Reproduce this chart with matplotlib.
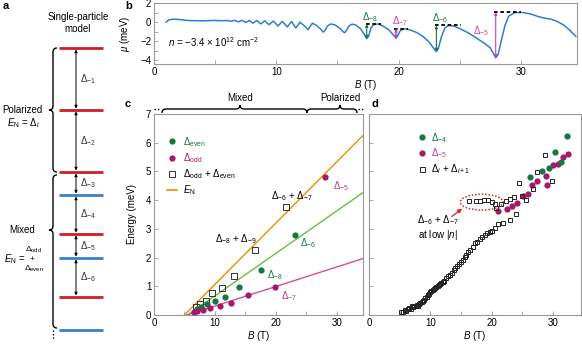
import numpy as np
import matplotlib
matplotlib.use('Agg')
import matplotlib.pyplot as plt
from matplotlib.path import Path
from matplotlib.patches import PathPatch, Ellipse
from matplotlib.ticker import MultipleLocator
from matplotlib.lines import Line2D

plt.rcParams['font.family'] = ['Liberation Sans', 'DejaVu Sans']
plt.rcParams['mathtext.fontset'] = 'custom'
plt.rcParams['mathtext.rm'] = 'Liberation Sans'
plt.rcParams['mathtext.it'] = 'Liberation Sans:italic'
plt.rcParams['mathtext.bf'] = 'Liberation Sans:bold'
plt.rcParams['font.size'] = 7

GREEN = '#13793f'
PURPLE = '#a5196b'
PINK_TXT = '#c2388a'
ORANGE = '#f28a00'
LGREEN = '#66c23a'
PINKLINE = '#d4508f'
BLUE = '#2f7fcf'
RED = '#cc1f2b'
LBLUE = '#3b7fc9'
SPINE = '#999999'

# ---- panel a: single-particle levels (pixel positions in schematic) ----
level_y = [48, 110, 172, 195, 234, 258, 297, 330]
level_col = [RED, RED, RED, LBLUE, RED, LBLUE, RED, LBLUE]
gap_names = ['-1', '-2', '-3', '-4', '-5', '-6']

# ---- panel b: mu(B) trace ----
b_B = [1.0, 1.2, 1.5, 2.0, 2.5, 3.0, 3.5, 4.0, 4.5, 5.0, 5.5, 6.0, 6.3, 6.6, 6.9,
       7.2, 7.5, 7.8, 8.1, 8.4, 8.75, 9.05, 9.4, 9.75, 10.15, 10.5, 10.9, 11.25,
       11.6, 11.95, 12.3, 12.6, 12.95, 13.3, 13.6, 13.85, 14.0, 14.2, 14.45, 14.8,
       15.2, 15.45, 15.6, 15.75, 15.95, 16.2, 16.5, 16.9, 17.2, 17.4, 17.55, 17.75,
       18.0, 18.3, 18.7, 19.2, 19.6, 19.8, 19.95, 20.15, 20.45, 20.9, 21.5, 22.0,
       22.5, 22.9, 23.1, 23.25, 23.5, 23.8, 24.1, 24.6, 25.2, 25.8, 26.4, 27.0,
       27.5, 27.8, 27.95, 28.15, 28.4, 28.7, 29.0, 29.5, 30.2, 30.8, 31.5, 32.0,
       32.5, 33.0, 33.5, 34.0, 34.5]
b_mu = [0.0, 0.22, 0.3, 0.28, 0.2, 0.15, 0.14, 0.13, 0.15, 0.17, 0.14, 0.16, 0.08, 0.18, 0.02,
        0.18, -0.05, 0.17, -0.12, 0.16, -0.2, 0.14, -0.28, 0.1, -0.4, 0.08, -0.5, 0.05,
        -0.62, -0.02, -0.4, -0.8, -0.12, -0.35, -0.7, -1.05, -0.85, -0.4, -0.2, -0.3,
        -0.65, -1.0, -1.12, -0.85, -0.4, -0.22, -0.3, -0.7, -1.3, -1.75, -1.5, -0.6,
        -0.25, -0.2, -0.4, -0.8, -1.4, -1.7, -1.4, -0.9, -0.7, -0.8, -1.1, -1.5,
        -2.1, -2.8, -3.1, -2.8, -1.6, -0.6, -0.35, -0.45, -0.8, -1.2, -1.7, -2.2,
        -2.7, -3.4, -3.75, -3.4, -2.0, -0.4, 0.6, 1.0, 1.0, 0.85, 0.55, 0.4,
        0.3, 0.05, -0.3, -0.85, -1.5]
gap_B = [17.4, 19.8, 23.1, 27.95]
gap_low = [-1.75, -1.7, -3.1, -3.75]
gap_high = [-0.2, -0.7, -0.35, 1.05]
gap_dash = [(17.3, 18.6), (19.6, 20.8), (23.0, 25.1), (27.8, 30.0)]
gap_lab = ['-8', '-7', '-6', '-5']
gap_col = [GREEN, '#d43cb8', GREEN, '#d43cb8']

# ---- panel c ----
c_even_B = [7.0, 7.7, 8.7, 10.0, 11.6, 14.0, 17.5, 23.2]
c_even_E = [0.2, 0.28, 0.38, 0.5, 0.64, 0.98, 1.55, 2.77]
c_odd_B = [6.5, 7.1, 8.1, 9.2, 10.8, 12.6, 15.5, 19.9, 28.1]
c_odd_E = [0.1, 0.14, 0.17, 0.23, 0.31, 0.41, 0.70, 0.99, 4.8]
c_sum_B = [6.9, 7.6, 8.5, 9.6, 11.2, 13.2, 16.5, 21.6]
c_sum_E = [0.29, 0.37, 0.5, 0.76, 0.95, 1.37, 2.27, 3.76]
fit_B0 = [5.0, 5.5, 5.4]        # E_N, even, odd
fit_slope = [0.2134, 0.148, 0.068]
fit_col = [ORANGE, LGREEN, PINKLINE]

# ---- panel d ----
d_even_B = [26.2, 28.3, 29.4, 30.3, 31.3, 32.3]
d_even_E = [4.81, 5.02, 5.13, 5.68, 5.33, 6.23]
d_odd_B = [21.1, 22.6, 23.4, 24.2, 25.1, 25.9, 26.6, 27.5, 28.9, 29.1, 30.0, 30.8, 31.6, 32.4]
d_odd_E = [3.62, 3.7, 3.78, 3.9, 4.13, 4.2, 4.53, 4.66, 4.83, 4.54, 5.22, 5.27, 5.51, 5.62]
d_sum_B = [5.2, 5.6, 5.9, 6.1, 6.3, 6.6, 6.8, 7.0, 7.2, 7.4, 7.6, 7.8, 8.0, 8.2, 8.4, 8.6,
           8.8, 9.0, 9.2, 9.4, 9.6, 9.8, 10.0, 10.2, 10.4, 10.6, 10.8, 11.0, 11.2, 11.4,
           11.6, 11.8, 12.0, 12.3, 12.6, 12.9, 13.2, 13.5, 13.8, 14.1, 14.4, 14.7, 15.0,
           15.3, 15.6, 15.9, 16.2, 16.5, 16.9, 17.3, 17.7, 18.1, 18.5, 18.9, 19.3, 19.7,
           20.0, 20.6, 21.1, 21.9, 23.0, 24.0,
           16.3, 17.5, 18.1, 18.8, 19.4, 20.0, 20.6,
           20.8, 21.5, 22.3, 23.0, 23.7, 24.9, 25.7, 24.4, 26.8, 27.4, 28.7, 29.9]
d_sum_E = [0.10, 0.12, 0.16, 0.14, 0.2, 0.24, 0.22, 0.3, 0.28, 0.33, 0.3, 0.35, 0.33, 0.38, 0.42, 0.45,
           0.5, 0.52, 0.58, 0.62, 0.7, 0.74, 0.8, 0.84, 0.86, 0.9, 0.95, 0.98, 1.02, 1.05,
           1.08, 1.12, 1.15, 1.2, 1.28, 1.35, 1.4, 1.48, 1.55, 1.62, 1.7, 1.78, 1.85,
           1.92, 2.02, 2.1, 2.18, 2.25, 2.36, 2.5, 2.55, 2.63, 2.72, 2.8, 2.86, 2.9,
           2.94, 3.03, 3.17, 3.2, 3.31, 3.52,
           3.97, 3.96, 3.97, 3.99, 4.01, 3.94, 3.87,
           3.73, 3.85, 3.97, 4.04, 4.11, 4.13, 4.01, 4.61, 4.38, 4.98, 5.57, 4.66]

W, H = 582, 344
fig = plt.figure(figsize=(W / 100, H / 100), dpi=100)


def px_axes(l, t, r, b):
    return fig.add_axes([l / W, 1 - b / H, (r - l) / W, (b - t) / H])


def style(ax):
    for s in ax.spines.values():
        s.set_color(SPINE)
        s.set_linewidth(0.8)
    ax.tick_params(which='both', direction='in', color=SPINE, width=0.6, labelsize=7, pad=2)
    ax.tick_params(which='major', length=3)
    ax.tick_params(which='minor', length=3)


def brace(ax, x, y0, y1, yt, h, s=-1, vertical=True, **kw):
    d = np.sign(y1 - y0)
    pts = [(x - s * h, y0), (x, y0), (x, y0 + d * h), (x, yt - d * h), (x, yt),
           (x + s * h, yt), (x, yt), (x, yt + d * h), (x, y1 - d * h), (x, y1),
           (x - s * h, y1)]
    if not vertical:
        pts = [(q, p) for p, q in pts]
    codes = [Path.MOVETO, Path.CURVE3, Path.CURVE3, Path.LINETO, Path.CURVE3,
             Path.CURVE3, Path.CURVE3, Path.CURVE3, Path.LINETO, Path.CURVE3, Path.CURVE3]
    ax.add_patch(PathPatch(Path(pts, codes), fill=False, lw=kw.get('lw', 1.0),
                           color='black', clip_on=False))


# overlay in pixel coords for schematic panel a and braces
ov = fig.add_axes([0, 0, 1, 1])
ov.set_xlim(0, W)
ov.set_ylim(H, 0)
ov.axis('off')

ov.text(78, 23, 'Single-particle\nmodel', ha='center', va='center', fontsize=7, linespacing=1.2)
for y, c in zip(level_y, level_col):
    ov.plot([59, 103], [y, y], color=c, lw=2, solid_capstyle='butt')
for i, name in enumerate(gap_names):
    y0, y1 = level_y[i], level_y[i + 1]
    ov.annotate('', xy=(76, y0 + 1.5), xytext=(76, y1 - 1.5),
                arrowprops=dict(arrowstyle='<|-|>', color='black', lw=0.7,
                                mutation_scale=4, shrinkA=0, shrinkB=0))
    ov.text(80, (y0 + y1) / 2, r'$\mathit{\Delta}_{%s}$' % name, ha='left', va='center',
            fontsize=7, color='#333333')
brace(ov, 53, 48, 172, 110, 4)
brace(ov, 53, 175, 328, 230, 4)
ov.plot([53, 53], [330, 340], color='black', lw=1, ls=(0, (1, 1.5)))
ov.text(22, 110, 'Polarized', ha='center', va='center', fontsize=7)
ov.text(24, 123, r'$E_{\rm N}$ = $\mathit{\Delta}_i$', ha='center', va='center', fontsize=7)
ov.text(22, 230, 'Mixed', ha='center', va='center', fontsize=7)
ov.text(15, 259, r'$E_{\rm N}$ =', ha='center', va='center', fontsize=7)
ov.text(34, 250, r'$\mathit{\Delta}_{\rm odd}$', ha='center', va='center', fontsize=6)
ov.text(32, 259.5, '+', ha='center', va='center', fontsize=6)
ov.text(34, 268.5, r'$\mathit{\Delta}_{\rm even}$', ha='center', va='center', fontsize=6)

# braces above panel c
brace(ov, 109, 162, 307, 240, 4, s=-1, vertical=False)
brace(ov, 109, 307, 357, 340, 4, s=-1, vertical=False)
ov.plot([154, 161], [109, 109], color='black', lw=1, ls=(0, (1, 1.5)))
ov.plot([358, 365], [109, 109], color='black', lw=1, ls=(0, (1, 1.5)))
ov.text(240, 98, 'Mixed', ha='center', va='center', fontsize=7)
ov.text(340, 98, 'Polarized', ha='center', va='center', fontsize=7)

# brace of panel d legend
brace(ov, 413, 136, 171, 153.5, 3)
ov.text(399, 154, r'$E_{\rm N}$ =', ha='center', va='center', fontsize=7)

# panel labels
for lab, x, y in [('a', 3, 6), ('b', 125, 6), ('c', 125, 104), ('d', 372, 104)]:
    ov.text(x, y, lab, fontsize=8, fontweight='bold', ha='left', va='center')

# ---- panel b ----
axb = px_axes(154, 3, 577, 64)
style(axb)
axb.plot(b_B, b_mu, color=BLUE, lw=1.1)
for Bg, lo, hi, (d0, d1), lab, c in zip(gap_B, gap_low, gap_high, gap_dash, gap_lab, gap_col):
    axb.plot([d0, d1], [hi, hi], color='black', lw=1.3, ls=(0, (2, 1.5)))
    axb.annotate('', xy=(Bg, hi), xytext=(Bg, lo),
                 arrowprops=dict(arrowstyle='<|-|>', color=c, lw=0.8,
                                 mutation_scale=4, shrinkA=0, shrinkB=0))
    if lab == '-5':
        axb.text(Bg - 0.5, (lo + hi) / 2 + 0.4, r'$\mathit{\Delta}_{%s}$' % lab, color=c,
                 ha='right', va='center', fontsize=7)
    else:
        axb.text(Bg + 0.3, hi + 0.75, r'$\mathit{\Delta}_{%s}$' % lab, color=c,
                 ha='center', va='center', fontsize=7)
axb.text(1.15, -2.1, r'$n$ = −3.4 × 10$^{12}$ cm$^{-2}$', fontsize=7, va='center')
axb.set_xlim(0, 34.6)
axb.set_ylim(-4.4, 2.0)
axb.set_yticks([-4, -2, 0, 2])
axb.yaxis.set_minor_locator(MultipleLocator(1))
axb.set_xticks([0, 10, 20, 30])
axb.xaxis.set_minor_locator(MultipleLocator(5))
axb.set_xlabel(r'$B$ (T)', fontsize=7, labelpad=1)
axb.set_ylabel(r'$\mu$ (meV)', fontsize=7, labelpad=6)

# ---- panel c ----
axc = px_axes(154, 114, 363, 315)
style(axc)
for B0, k, c in zip(fit_B0, fit_slope, fit_col):
    axc.plot([B0, 35], [0, k * (35 - B0)], color=c, lw=1.0, zorder=2)
axc.plot(c_sum_B, c_sum_E, 's', ms=4.2, mfc='none', mec='#333333', mew=0.7, zorder=3)
axc.plot(c_even_B, c_even_E, 'o', ms=4.5, color=GREEN, mec='none', zorder=4)
axc.plot(c_odd_B, c_odd_E, 'o', ms=4.5, color=PURPLE, mec='none', zorder=4)
axc.text(22.6, 4.15, r'$\mathit{\Delta}_{-6}$ + $\mathit{\Delta}_{-7}$', ha='center', va='center', fontsize=7)
axc.text(13.5, 2.66, r'$\mathit{\Delta}_{-8}$ + $\mathit{\Delta}_{-9}$', ha='center', va='center', fontsize=7)
axc.text(29.3, 4.5, r'$\mathit{\Delta}_{-5}$', color=PINK_TXT, ha='left', va='center', fontsize=7)
axc.text(24.0, 2.5, r'$\mathit{\Delta}_{-6}$', color=GREEN, ha='left', va='center', fontsize=7)
axc.text(18.5, 1.4, r'$\mathit{\Delta}_{-8}$', color=GREEN, ha='left', va='center', fontsize=7)
axc.text(20.8, 0.65, r'$\mathit{\Delta}_{-7}$', color=PINK_TXT, ha='left', va='center', fontsize=7)
handles = [Line2D([], [], ls='none', marker='o', ms=4.5, color=GREEN, mec='none'),
           Line2D([], [], ls='none', marker='o', ms=4.5, color=PURPLE, mec='none'),
           Line2D([], [], ls='none', marker='s', ms=4.2, mfc='none', mec='#333333', mew=0.7),
           Line2D([], [], color=ORANGE, lw=1.2)]
labels = [r'$\mathit{\Delta}_{\rm even}$', r'$\mathit{\Delta}_{\rm odd}$',
          r'$\mathit{\Delta}_{\rm odd}$ + $\mathit{\Delta}_{\rm even}$', r'$E_{\rm N}$']
axc.legend(handles, labels, loc='upper left', bbox_to_anchor=(0.03, 0.93), frameon=False,
           fontsize=7, handlelength=1.0, handletextpad=0.6, labelspacing=0.25,
           borderaxespad=0.3, labelcolor=[GREEN, PURPLE, 'black', 'black'])
axc.set_xlim(0, 34.3)
axc.set_ylim(0, 7)
axc.set_xticks([0, 10, 20, 30])
axc.xaxis.set_minor_locator(MultipleLocator(5))
axc.set_yticks(range(8))
axc.set_xlabel(r'$B$ (T)', fontsize=7, labelpad=1)
axc.set_ylabel('Energy (meV)', fontsize=7, labelpad=6)

# ---- panel d ----
axd = px_axes(369, 114, 581, 315)
style(axd)
axd.plot(d_sum_B, d_sum_E, 's', ms=3.2, mfc='none', mec='#222222', mew=0.7, zorder=3)
axd.plot(d_odd_B, d_odd_E, 'o', ms=4.5, color=PURPLE, mec='none', zorder=2)
axd.plot(d_even_B, d_even_E, 'o', ms=4.5, color=GREEN, mec='none', zorder=2)
axd.add_patch(Ellipse((18.4, 3.93), 7.0, 0.55, fill=False, ec='#e02020', lw=1.1, ls=(0, (1, 1.2))))
axd.annotate('', xy=(15.2, 3.7), xytext=(13.5, 3.43),
             arrowprops=dict(arrowstyle='-|>', color='#e02020', lw=0.9, mutation_scale=6,
                             shrinkA=0, shrinkB=0))
axd.text(11.2, 3.03, r'$\mathit{\Delta}_{-6}$ + $\mathit{\Delta}_{-7}$' + '\nat low |$n$|',
         ha='center', va='center', fontsize=7, linespacing=1.1)
handles_d = [Line2D([], [], ls='none', marker='o', ms=4.5, color=GREEN, mec='none'),
             Line2D([], [], ls='none', marker='o', ms=4.5, color=PURPLE, mec='none'),
             Line2D([], [], ls='none', marker='s', ms=3.6, mfc='none', mec='#222222', mew=0.7)]
labels_d = [r'$\mathit{\Delta}_{-4}$', r'$\mathit{\Delta}_{-5}$',
            r'$\mathit{\Delta}_i$ + $\mathit{\Delta}_{i+1}$']
axd.legend(handles_d, labels_d, loc='upper left', bbox_to_anchor=(0.2, 0.95), frameon=False,
           fontsize=7, handlelength=0.8, handletextpad=0.5, labelspacing=0.2,
           borderaxespad=0.3, labelcolor=[GREEN, PINK_TXT, 'black'])
axd.set_xlim(0, 34.6)
axd.set_ylim(0, 7)
axd.set_xticks([0, 10, 20, 30])
axd.xaxis.set_minor_locator(MultipleLocator(5))
axd.set_yticks(range(8))
axd.set_yticklabels([])
axd.set_xlabel(r'$B$ (T)', fontsize=7, labelpad=1)

fig.savefig('out.png', dpi=100)
